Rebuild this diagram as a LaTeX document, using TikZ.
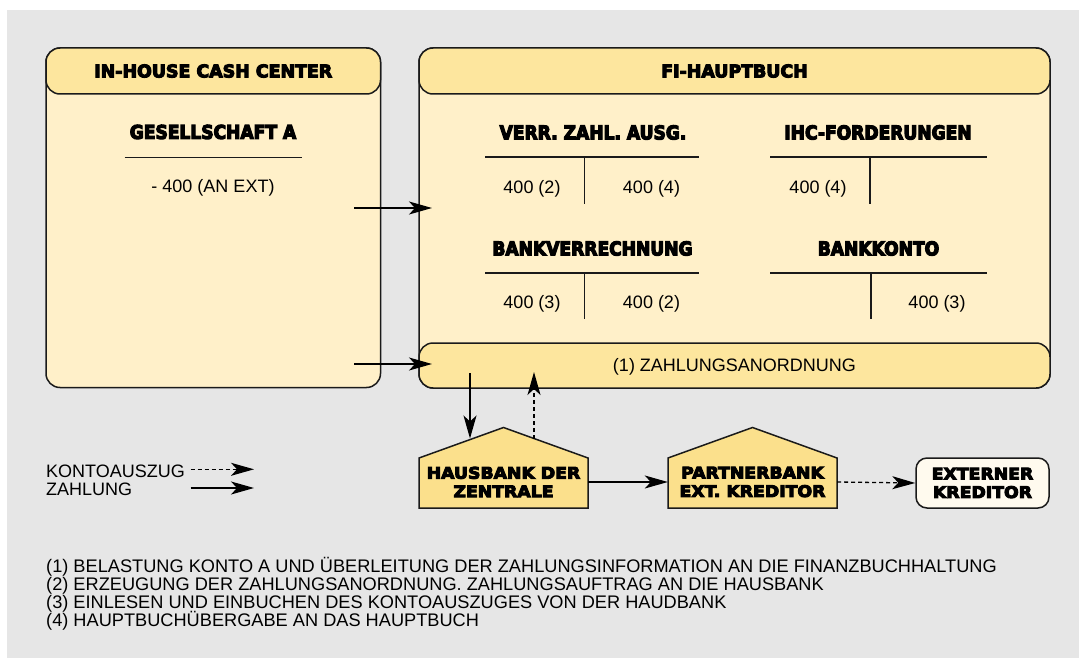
\documentclass[tikz,border=0pt]{standalone}
\usepackage{fontspec}
\setmainfont{Liberation Sans}
\newfontfamily\heavytitle{DejaVu Sans Bold}[FakeBold=6]
\newfontfamily\heavyacct{DejaVu Sans Bold}[FakeStretch=0.9,FakeBold=6]
\newfontfamily\heavybank{DejaVu Sans Bold}[FakeStretch=1.08,FakeBold=6]
\usetikzlibrary{arrows.meta}

\definecolor{bggray}{HTML}{E6E6E6}
\definecolor{cream}{HTML}{FFF0C9}
\definecolor{headyel}{HTML}{FDE69E}
\definecolor{houseyel}{HTML}{FBE08C}
\definecolor{extfill}{HTML}{FFFAEE}
\definecolor{ink}{HTML}{1A1A1A}

\tikzset{
  panel/.style={draw=ink, line width=1.5pt, rounded corners=14pt, inner sep=0pt},
  house/.style={draw=ink, fill=houseyel, line width=1.5pt, line join=miter},
  conn/.style={draw=black, line width=1.3pt, -{Stealth[length=23pt,width=13pt,inset=6pt]}},
  dashconn/.style={conn, dash pattern=on 4pt off 3pt},
  tline/.style={draw=ink, line width=1.3pt},
  title/.style={font=\heavytitle\fontsize{17.4}{20}\selectfont, text height=12.7pt, text depth=0pt, inner sep=0pt},
  acct/.style={font=\heavyacct\fontsize{19}{22}\selectfont, text height=13.8pt, text depth=0pt, inner sep=0pt},
  bank/.style={font=\heavybank\fontsize{16}{18.5}\selectfont, align=center, inner sep=0pt},
  body/.style={font=\fontsize{18}{18}\selectfont, text height=12.9pt, text depth=0pt, inner sep=0pt},
  note/.style={font=\fontsize{18.2}{18}\selectfont, inner sep=0pt, anchor=base west},
}

\begin{document}
\begin{tikzpicture}[x=1pt,y=-1pt]
\useasboundingbox (0,0) rectangle (1079,658);
\fill[white] (0,0) rectangle (1079,658);
\fill[bggray] (7,10) rectangle (1079,658);

% In-house cash center panel
\node[panel, fill=cream, minimum width=334.5pt, minimum height=339.5pt] (ihc) at (213.25,217.75) {};
\node[panel, fill=headyel, minimum width=334.5pt, minimum height=46pt] (ihchead) at (213.25,71) {};
\node[title] (ihctitle) at (213.25,71) {IN-HOUSE CASH CENTER};
\node[acct] (gesa) at (213,132) {GESELLSCHAFT A};
\draw[tline] (124.7,157.3) -- (302,157.3);
\node[body] (gesav) at (213,186) {- 400 (AN EXT)};

% FI general ledger panel
\node[panel, fill=cream, minimum width=631pt, minimum height=340pt] (fi) at (734.5,218) {};
\node[panel, fill=headyel, minimum width=631pt, minimum height=46pt] (fihead) at (734.5,71) {};
\node[title] (fititle) at (734.5,71) {FI-HAUPTBUCH};
\node[panel, fill=headyel, minimum width=631pt, minimum height=45pt, body] (zanord) at (734.5,365.5) {(1) ZAHLUNGSANORDNUNG};

% T-accounts
\node[acct] (verr) at (593,132.5) {VERR. ZAHL. AUSG.};
\draw[tline] (485,157) -- (699,157);
\draw[tline] (584.7,157) -- (584.7,204);
\node[body] (verrl) at (532,187) {400 (2)};
\node[body] (verrr) at (651.5,187) {400 (4)};

\node[acct] (ihcf) at (878,132.5) {IHC-FORDERUNGEN};
\draw[tline] (770,157) -- (986.6,157);
\draw[tline] (870,157) -- (870,204);
\node[body] (ihcfl) at (818,187) {400 (4)};

\node[acct] (bverr) at (592.5,248.5) {BANKVERRECHNUNG};
\draw[tline] (485,273) -- (699,273);
\draw[tline] (584.7,273) -- (584.7,319);
\node[body] (bverrl) at (532,302) {400 (3)};
\node[body] (bverrr) at (651.5,302) {400 (2)};

\node[acct] (bkonto) at (878.5,248.5) {BANKKONTO};
\draw[tline] (770,273) -- (986.6,273);
\draw[tline] (871,273) -- (871,319);
\node[body] (bkontor) at (937,302) {400 (3)};

% Banks
\filldraw[house] (419,508) -- (419,458) -- (503.5,427.5) -- (588,458) -- (588,508) -- cycle;
\filldraw[house] (668,508) -- (668,458) -- (752.5,427.5) -- (837,458) -- (837,508) -- cycle;
\node[bank, minimum width=169pt, minimum height=50pt] (hb1) at (503.5,482) {HAUSBANK DER\\ZENTRALE};
\node[bank, minimum width=169pt, minimum height=50pt] (hb2) at (752.5,482) {PARTNERBANK\\EXT. KREDITOR};
\node[panel, rounded corners=11pt, fill=extfill, minimum width=133pt, minimum height=50pt, bank] (ext) at (982.5,483) {EXTERNER\\KREDITOR};

% Flow connectors
\coordinate (ihcout1) at (354,208);
\coordinate (fiin1) at (432,208);
\coordinate (ihcout2) at (354,364);
\coordinate (fiin2) at (432,364);
\coordinate (zdown) at (470,373);
\coordinate (roofin) at (470,438.5);
\coordinate (roofout) at (534,438.8);
\coordinate (zup) at (534,372);
\draw[conn] (ihcout1) -- (fiin1);
\draw[conn] (ihcout2) -- (fiin2);
\draw[conn] (zdown) -- (roofin);
\draw[dashconn] (roofout) -- (zup);
\draw[conn] (hb1.east) -- (hb2.west);
\draw[dashconn] (hb2.east) -- (ext.west);

% Legend
\node[body, anchor=west] (lgk) at (46,471) {KONTOAUSZUG};
\node[body, anchor=west] (lgz) at (46,489.5) {ZAHLUNG};
\coordinate (lgks) at (190.7,469.3);
\coordinate (lgke) at (254,469.3);
\coordinate (lgzs) at (190.7,488);
\coordinate (lgze) at (254,488);
\draw[dashconn] (lgks) -- (lgke);
\draw[conn] (lgzs) -- (lgze);

% Notes
\node[note] (n1) at (46,572.5) {(1) BELASTUNG KONTO A UND ÜBERLEITUNG DER ZAHLUNGSINFORMATION AN DIE FINANZBUCHHALTUNG};
\node[note] (n2) at (46,590.5) {(2) ERZEUGUNG DER ZAHLUNGSANORDNUNG. ZAHLUNGSAUFTRAG AN DIE HAUSBANK};
\node[note] (n3) at (46,608.5) {(3) EINLESEN UND EINBUCHEN DES KONTOAUSZUGES VON DER HAUDBANK};
\node[note] (n4) at (46,626.5) {(4) HAUPTBUCHÜBERGABE AN DAS HAUPTBUCH};
\end{tikzpicture}
\end{document}
